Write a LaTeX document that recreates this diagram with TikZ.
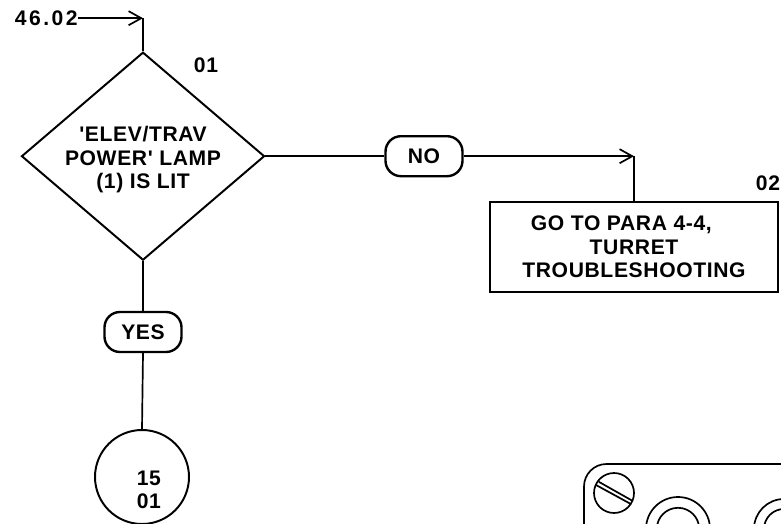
\documentclass[tikz,border=0pt]{standalone}
\usepackage{fontspec}
\newfontfamily\flowfont{Liberation Sans}
\usepackage{tikz}
\usetikzlibrary{shapes.geometric, positioning, arrows.meta}

\begin{document}
\begin{tikzpicture}[
          txt/.style={font=\fontsize{15}{16.8}\selectfont\flowfont\bfseries\addfontfeature{LetterSpace=3}, align=center, inner sep=0pt},
          pill/.style={draw, line width=1.7pt, rounded corners=11pt, txt, minimum height=1cm, minimum width=1.925cm},
          arr/.style={-{Straight Barb[length=9pt, width=10pt]}, line width=1.2pt},
          link/.style={line width=1.2pt},
          part/.style={line width=1.2pt}
        ]
        \clip (0, 0) rectangle (19.525, 13.075);
        \useasboundingbox (0, 0) rectangle (19.525, 13.075);

        % Entry point
        \node[txt, anchor=east, font=\fontsize{15}{16.8}\selectfont\flowfont\bfseries\addfontfeature{LetterSpace=12}]
              (entry) at (1.95, 12.62) {46.02};
        \coordinate (entrybend) at (3.575, 12.62);

        % Decision
        \node[diamond, draw, line width=1.4pt, aspect=1.18, inner sep=0pt,
              minimum width=6.075cm, minimum height=5.2cm] (lamp) at (3.575, 9.17) {};
        \node[txt] (lamptxt) at ([yshift=-2.5pt]lamp.center)
              {'ELEV/TRAV\\POWER' LAMP\\(1) IS LIT};
        \node[txt] (num01) at (5.15, 11.45) {01};

        % Answers
        \node[pill] (no) at (10.6, 9.17) {NO};
        \node[pill] (yes) at (3.575, 4.775) {YES};

        % Go to box
        \node[draw, line width=1.4pt, minimum width=7.2cm, minimum height=2.25cm, txt]
              (goto) at (15.85, 6.9) {GO TO PARA 4-4,\hspace*{18pt}\\TURRET\\TROUBLESHOOTING};
        \node[txt] (num02) at (19.2, 8.5) {02};
        \coordinate (nobend) at (goto.north |- no);

        % Off page connector
        \node[circle, draw, line width=1.4pt, minimum size=2.35cm] (offpage) at (3.55, 1.15) {};
        \node[txt] (offtxt) at (3.72, 0.83) {15\\01};

        % Flow lines
        \draw[arr] (entry.east) -- (entrybend);
        \draw[link] (entrybend) -- (lamp.north);
        \draw[link] (lamp.east) -- (no.west);
        \draw[arr] (no.east) -- (nobend);
        \draw[link] (nobend) -- (goto.north);
        \draw[link] (lamp.south) -- (yes.north);
        \draw[link] (yes.south) -- (offpage.north);

        % Panel at lower right
        \draw[part, rounded corners=16pt] (14.6, -1) -- (14.6, 1.475) -- (21, 1.475);
        \draw[part] (15.35, 0.75) circle (0.5);
        \draw[part] (14.9, 0.95) -- (15.78, 0.47);
        \draw[part] (14.97, 1.03) -- (15.82, 0.55);
        \draw[part] (16.95, -0.15) circle (0.8);
        \draw[part] (16.95, -0.15) circle (0.53);
        \draw[part] (19.6, -0.15) circle (0.75);
        \draw[part] (19.6, -0.15) circle (0.5);
\end{tikzpicture}
\end{document}
